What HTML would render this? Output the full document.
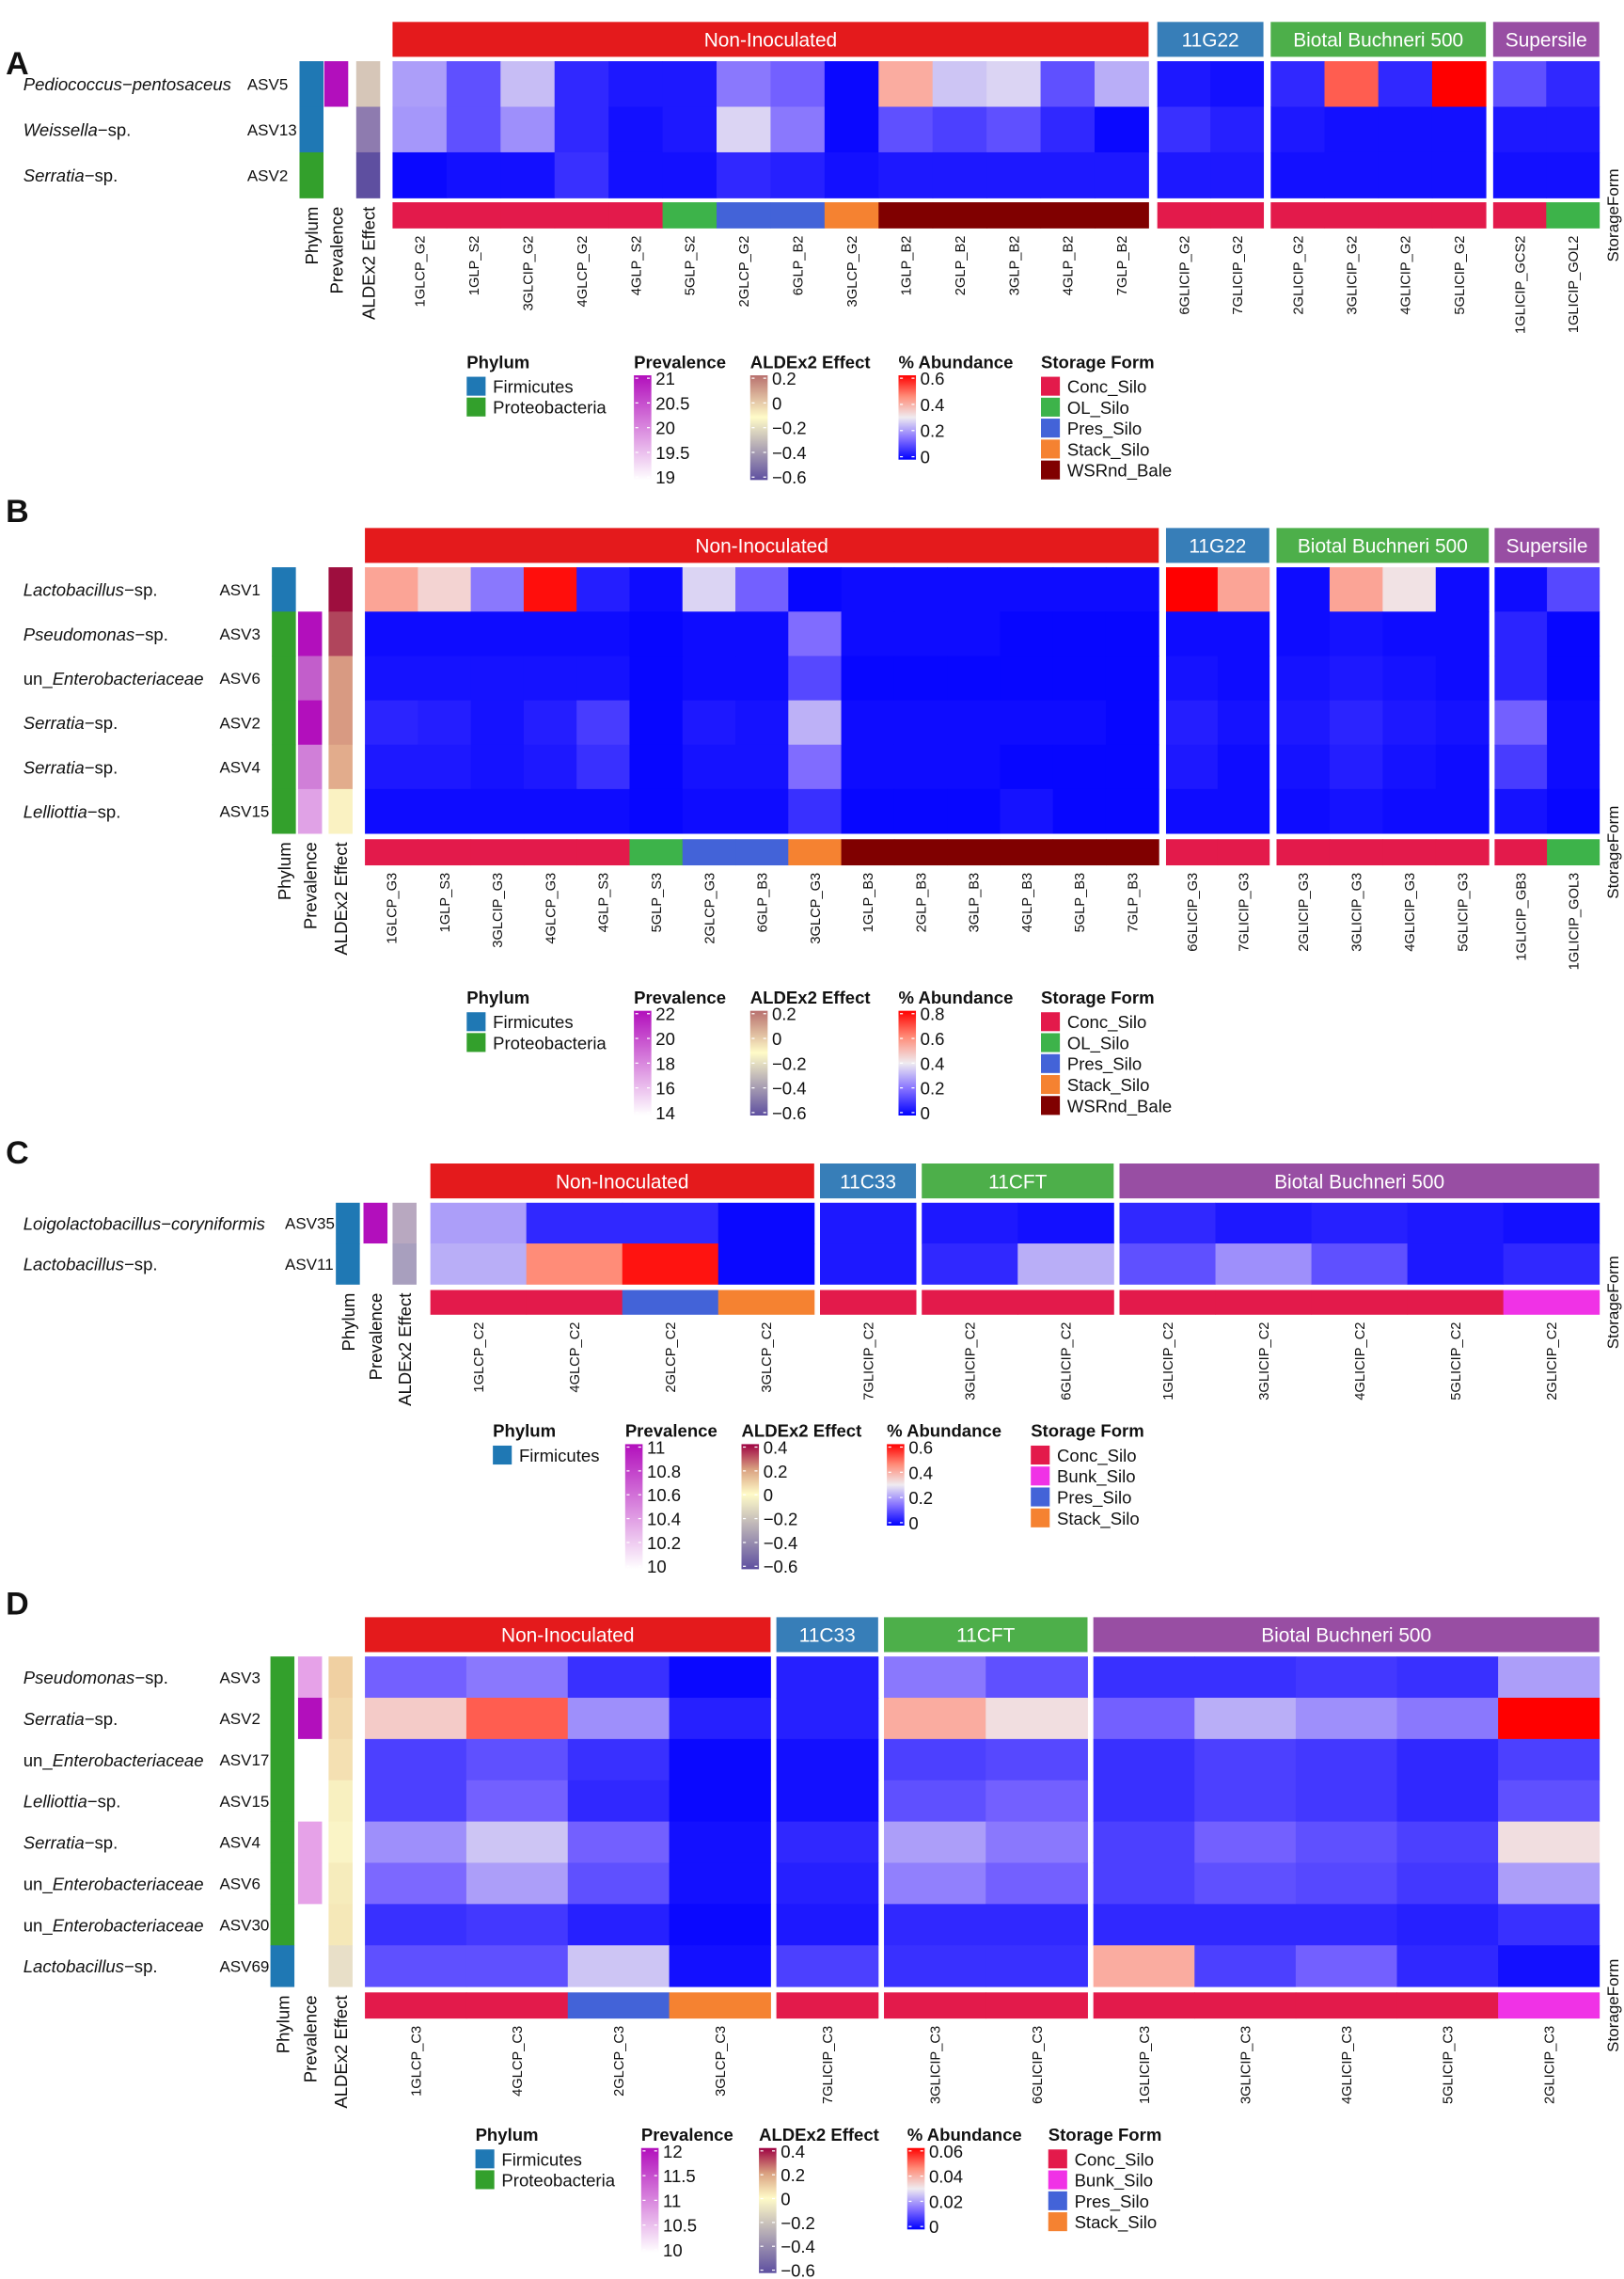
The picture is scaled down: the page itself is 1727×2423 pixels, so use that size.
<!DOCTYPE html>
<html><head><meta charset="utf-8"><style>
html,body{margin:0;padding:0;background:#fff}
svg{display:block}
text{font-family:"Liberation Sans",Arial,sans-serif;fill:#111}
</style></head><body>
<svg id="fig" xmlns="http://www.w3.org/2000/svg" width="1727" height="2423" viewBox="0 0 1117 1567">
<defs>
<linearGradient id="gAbund" x1="0" y1="1" x2="0" y2="0"><stop offset="0" stop-color="#0000FF"/><stop offset="0.25" stop-color="#8470FF"/><stop offset="0.5" stop-color="#EFEBF0"/><stop offset="0.75" stop-color="#FF8C78"/><stop offset="1" stop-color="#FF0000"/></linearGradient>
<linearGradient id="gPrev" x1="0" y1="1" x2="0" y2="0"><stop offset="0" stop-color="#FFFFFF"/><stop offset="1" stop-color="#B20FBC"/></linearGradient>
<linearGradient id="gAld" x1="0" y1="1" x2="0" y2="0"><stop offset="0" stop-color="#5E4FA0"/><stop offset="0.6" stop-color="#FFFBC8"/><stop offset="1" stop-color="#B8706E"/></linearGradient>
<linearGradient id="gAld2" x1="0" y1="1" x2="0" y2="0"><stop offset="0" stop-color="#5E4FA0"/><stop offset="0.6" stop-color="#FFFBC8"/><stop offset="0.8" stop-color="#D9A080"/><stop offset="1" stop-color="#9E0142"/></linearGradient>
</defs>
</svg>
<script>
// ---------- Data ----------
const panelLetters = ["A","B","C","D"];
const groupNamesA = ["Non-Inoculated","11G22","Biotal Buchneri 500","Supersile"];
const groupSizesA = [14,2,4,2];
const samplesA = ["1GLCP_G2","1GLP_S2","3GLCIP_G2","4GLCP_G2","4GLP_S2","5GLP_S2","2GLCP_G2","6GLP_B2","3GLCP_G2","1GLP_B2","2GLP_B2","3GLP_B2","4GLP_B2","7GLP_B2","6GLICIP_G2","7GLICIP_G2","2GLICIP_G2","3GLICIP_G2","4GLICIP_G2","5GLICIP_G2","1GLICIP_GCS2","1GLICIP_GOL2"];
const storageA = ["Conc","Conc","Conc","Conc","Conc","OL","Pres","Pres","Stack","WSRnd","WSRnd","WSRnd","WSRnd","WSRnd","Conc","Conc","Conc","Conc","Conc","Conc","Conc","OL"];
const taxaA = [["Pediococcus−pentosaceus",""],["Weissella","−sp."],["Serratia","−sp."]];
const asvA = ["ASV5","ASV13","ASV2"];
const phylumA = ["F","F","P"];
const prevColA = ["#B20FBC","#FFFFFF","#FFFFFF"];
const aldColA = ["#D6C6B8","#8E7BAF","#5E4FA0"];
const abundMaxA = 0.6;
const abundA = [
[0.2,0.1,0.24,0.05,0.03,0.03,0.15,0.12,0.01,0.4,0.25,0.27,0.1,0.22,0.03,0.02,0.05,0.5,0.05,0.6,0.1,0.05],
[0.19,0.1,0.18,0.05,0.02,0.03,0.27,0.15,0.01,0.1,0.08,0.1,0.05,0.01,0.06,0.04,0.03,0.02,0.02,0.02,0.03,0.03],
[0.01,0.02,0.02,0.06,0.02,0.02,0.05,0.04,0.02,0.03,0.03,0.03,0.03,0.03,0.03,0.03,0.02,0.02,0.02,0.02,0.02,0.02]];

const groupNamesB = ["Non-Inoculated","11G22","Biotal Buchneri 500","Supersile"];
const groupSizesB = [15,2,4,2];
const samplesB = ["1GLCP_G3","1GLP_S3","3GLCIP_G3","4GLCP_G3","4GLP_S3","5GLP_S3","2GLCP_G3","6GLP_B3","3GLCP_G3","1GLP_B3","2GLP_B3","3GLP_B3","4GLP_B3","5GLP_B3","7GLP_B3","6GLICIP_G3","7GLICIP_G3","2GLICIP_G3","3GLICIP_G3","4GLICIP_G3","5GLICIP_G3","1GLICIP_GB3","1GLICIP_GOL3"];
const storageB = ["Conc","Conc","Conc","Conc","Conc","OL","Pres","Pres","Stack","WSRnd","WSRnd","WSRnd","WSRnd","WSRnd","WSRnd","Conc","Conc","Conc","Conc","Conc","Conc","Conc","OL"];
const taxaB = [["Lactobacillus","−sp."],["Pseudomonas","−sp."],["un_Enterobacteriaceae","",1],["Serratia","−sp."],["Serratia","−sp."],["Lelliottia","−sp."]];
const asvB = ["ASV1","ASV3","ASV6","ASV2","ASV4","ASV15"];
const phylumB = ["F","P","P","P","P","P"];
const prevColB = ["#FFFFFF","#B20FBC","#C25ECB","#B20FBC","#D07FD8","#E0A2E6"];
const aldColB = ["#9E0E3E","#B0455C","#D89A82","#D89A82","#E2AC8C","#FAF2C2"];
const abundMaxB = 0.8;
const abundB = [
[0.55,0.45,0.2,0.78,0.05,0.02,0.36,0.16,0.01,0.02,0.02,0.02,0.02,0.02,0.02,0.8,0.55,0.02,0.55,0.42,0.02,0.02,0.12],
[0.02,0.02,0.02,0.02,0.02,0.01,0.02,0.02,0.18,0.02,0.02,0.02,0.01,0.01,0.01,0.02,0.02,0.02,0.03,0.02,0.02,0.06,0.01],
[0.03,0.03,0.03,0.03,0.03,0.01,0.02,0.02,0.12,0.01,0.01,0.01,0.01,0.01,0.01,0.03,0.02,0.03,0.04,0.03,0.02,0.06,0.01],
[0.06,0.05,0.03,0.05,0.1,0.01,0.04,0.03,0.3,0.02,0.02,0.02,0.02,0.02,0.01,0.05,0.03,0.04,0.06,0.04,0.03,0.16,0.02],
[0.04,0.04,0.03,0.04,0.08,0.01,0.03,0.03,0.18,0.02,0.02,0.02,0.01,0.01,0.01,0.04,0.02,0.03,0.05,0.03,0.02,0.1,0.02],
[0.02,0.02,0.02,0.02,0.02,0.01,0.02,0.02,0.08,0.01,0.01,0.01,0.03,0.01,0.01,0.02,0.02,0.02,0.03,0.02,0.02,0.03,0.01]];

const groupNamesC = ["Non-Inoculated","11C33","11CFT","Biotal Buchneri 500"];
const groupSizesC = [4,1,2,5];
const samplesC = ["1GLCP_C2","4GLCP_C2","2GLCP_C2","3GLCP_C2","7GLICIP_C2","3GLICIP_C2","6GLICIP_C2","1GLICIP_C2","3GLICIP_C2","4GLICIP_C2","5GLICIP_C2","2GLICIP_C2"];
const storageC = ["Conc","Conc","Pres","Stack","Conc","Conc","Conc","Conc","Conc","Conc","Conc","Bunk"];
const taxaC = [["Loigolactobacillus−coryniformis",""],["Lactobacillus","−sp."]];
const asvC = ["ASV35","ASV11"];
const phylumC = ["F","F"];
const prevColC = ["#B20FBC","#FFFFFF"];
const aldColC = ["#B8A8C0","#A89FBE"];
const abundMaxC = 0.6;
const abundC = [
[0.2,0.05,0.05,0.01,0.03,0.03,0.02,0.05,0.03,0.04,0.03,0.02],
[0.22,0.45,0.58,0.01,0.03,0.05,0.22,0.1,0.18,0.1,0.03,0.05]];

const groupNamesD = ["Non-Inoculated","11C33","11CFT","Biotal Buchneri 500"];
const groupSizesD = [4,1,2,5];
const samplesD = ["1GLCP_C3","4GLCP_C3","2GLCP_C3","3GLCP_C3","7GLICIP_C3","3GLICIP_C3","6GLICIP_C3","1GLICIP_C3","3GLICIP_C3","4GLICIP_C3","5GLICIP_C3","2GLICIP_C3"];
const storageD = ["Conc","Conc","Pres","Stack","Conc","Conc","Conc","Conc","Conc","Conc","Conc","Bunk"];
const taxaD = [["Pseudomonas","−sp."],["Serratia","−sp."],["un_Enterobacteriaceae","",1],["Lelliottia","−sp."],["Serratia","−sp."],["un_Enterobacteriaceae","",1],["un_Enterobacteriaceae","",1],["Lactobacillus","−sp."]];
const asvD = ["ASV3","ASV2","ASV17","ASV15","ASV4","ASV6","ASV30","ASV69"];
const phylumD = ["P","P","P","P","P","P","P","F"];
const prevColD = ["#E6A2E8","#B20FBC","#FFFFFF","#FFFFFF","#E6A2E8","#E6A2E8","#FFFFFF","#FFFFFF"];
const aldColD = ["#F0D0A2","#F2D8AA","#F4E0B2","#F8F0C0","#FAF4C6","#F6ECBC","#F5E8B8","#E8DFC8"];
const abundMaxD = 0.06;
const abundD = [
[0.012,0.015,0.006,0.001,0.004,0.015,0.01,0.006,0.006,0.007,0.006,0.02],
[0.035,0.05,0.018,0.004,0.004,0.04,0.032,0.012,0.022,0.018,0.015,0.06],
[0.008,0.01,0.006,0.001,0.002,0.008,0.009,0.006,0.008,0.007,0.005,0.008],
[0.008,0.012,0.005,0.001,0.002,0.01,0.012,0.006,0.008,0.007,0.005,0.01],
[0.018,0.025,0.012,0.002,0.005,0.02,0.015,0.008,0.012,0.01,0.008,0.032],
[0.013,0.02,0.01,0.002,0.004,0.016,0.012,0.008,0.01,0.009,0.007,0.02],
[0.006,0.007,0.004,0.001,0.003,0.005,0.005,0.005,0.005,0.005,0.004,0.006],
[0.01,0.01,0.025,0.002,0.008,0.006,0.006,0.04,0.008,0.012,0.005,0.002]];

// legend tick labels
const prevTicksA = ["21","20.5","20","19.5","19"];
const aldTicksA = ["0.2","0","−0.2","−0.4","−0.6"];
const abTicksA = ["0.6","0.4","0.2","0"];
const prevTicksB = ["22","20","18","16","14"];
const abTicksB = ["0.8","0.6","0.4","0.2","0"];
const prevTicksC = ["11","10.8","10.6","10.4","10.2","10"];
const aldTicksC = ["0.4","0.2","0","−0.2","−0.4","−0.6"];
const prevTicksD = ["12","11.5","11","10.5","10"];
const abTicksD = ["0.06","0.04","0.02","0"];

// ---------- Styles ----------
const groupColors = ["#E41A1C","#377EB8","#4DAF4A","#984EA3"];
const storeColors = {Conc:"#E31A4B",OL:"#3DB34A",Pres:"#4363D8",Stack:"#F58231",WSRnd:"#800000",Bunk:"#F032E6"};
const storeNames = {Conc:"Conc_Silo",OL:"OL_Silo",Pres:"Pres_Silo",Stack:"Stack_Silo",WSRnd:"WSRnd_Bale",Bunk:"Bunk_Silo"};
const phyColors = {F:"#1F78B4",P:"#33A02C"};

const svg = document.getElementById('fig');
const NS = "http://www.w3.org/2000/svg";
function el(tag, attrs, parent){const e=document.createElementNS(NS,tag);for(const k in attrs)e.setAttribute(k,attrs[k]);(parent||svg).appendChild(e);return e;}
function txt(s,x,y,size,opts,parent){opts=opts||{};const t=el('text',{x:x,y:y,'font-size':size},parent);if(opts.anchor)t.setAttribute('text-anchor',opts.anchor);if(opts.bold)t.setAttribute('font-weight','bold');if(opts.fill)t.style.fill=opts.fill;if(opts.rot)t.setAttribute('transform','rotate(-90 '+x+' '+y+')');t.textContent=s;return t;}
function hex(c){return [parseInt(c.slice(1,3),16),parseInt(c.slice(3,5),16),parseInt(c.slice(5,7),16)];}
const abStops=[[0,"#0000FF"],[0.22,"#7E6AFF"],[0.5,"#EFEBF0"],[0.75,"#FF8C78"],[1,"#FF0000"]];
function abColor(t){t=Math.max(0,Math.min(1,t));for(let i=1;i<abStops.length;i++){if(t<=abStops[i][0]){const a=abStops[i-1],b=abStops[i];const f=(t-a[0])/(b[0]-a[0]);const A=hex(a[1]),B=hex(b[1]);return 'rgb('+A.map((v,j)=>Math.round(v+(B[j]-v)*f)).join(',')+')';}}return "#FF0000";}

function panel(cfg){
  const g=el('g',{});
  
  
  const L=txt(cfg.letter,4,cfg.letterY,22,{bold:true},g);
  
  
  const nR=cfg.abund.length;
  const rowH=(cfg.hmBottom-cfg.hmTop)/nR;
  const colX=[];const colW=[];
  cfg.groupSizes.forEach((n,gi)=>{
    const x0=cfg.groupX[gi][0],x1=cfg.groupX[gi][1],w=(x1-x0)/n;
    const h=el('rect',{x:x0,y:cfg.hdrTop,width:x1-x0,height:cfg.hmTop-cfg.hdrTop-3,fill:groupColors[gi]},g);
    
    
    const ht=txt(cfg.groupNames[gi],(x0+x1)/2,cfg.hdrTop+(cfg.hmTop-cfg.hdrTop-3)/2+5,13.5,{anchor:'middle',fill:'#fff'},g);
    
    
    for(let k=0;k<n;k++){colX.push(x0+k*w);colW.push(w);}
  });
  cfg.abund.forEach((row,r)=>{
    row.forEach((v,c)=>{
      const cell=el('rect',{x:colX[c],y:cfg.hmTop+r*rowH,width:colW[c]+0.3,height:rowH+0.3,fill:abColor(v/cfg.abMax)},g);
      
      
    });
  });
  cfg.storage.forEach((s,c)=>{
    const b=el('rect',{x:colX[c],y:cfg.stTop,width:colW[c]+0.3,height:cfg.stH,fill:storeColors[s]},g);
    
    
    const lab=txt(cfg.samples[c],colX[c]+colW[c]/2+3.5,cfg.stTop+cfg.stH+5,9.5,{anchor:'end',rot:true},g);
    
    
  });
  const sf=txt('StorageForm',1113,cfg.stTop+cfg.stH/2,11,{anchor:'middle',rot:true},g);
  
  
  const ax=cfg.annX;
  for(let r=0;r<nR;r++){
    const y=cfg.hmTop+r*rowH;
    const p=el('rect',{x:ax[0],y:y,width:16.5,height:rowH+0.3,fill:phyColors[cfg.phylum[r]]},g);
    
    
    const q=el('rect',{x:ax[1],y:y,width:16.5,height:rowH+0.3,fill:cfg.prev[r]},g);
    
    
    const a=el('rect',{x:ax[2],y:y,width:16.5,height:rowH+0.3,fill:cfg.ald[r]},g);
    
    
    const t=cfg.taxa[r];
    const rt=el('text',{x:16,y:y+rowH/2+4.5,'font-size':12},g);
    
    
    if(t[2]){const s1=el('tspan',{},rt);s1.textContent='un_';const s2=el('tspan',{'font-style':'italic'},rt);s2.textContent=t[0].slice(3);}
    else{const s1=el('tspan',{'font-style':'italic'},rt);s1.textContent=t[0];if(t[1]){const s2=el('tspan',{},rt);s2.textContent=t[1];}}
    const at=txt(cfg.asv[r],cfg.asvX,y+rowH/2+4,11,{},g);
    
    
  }
  ['Phylum','Prevalence','ALDEx2 Effect'].forEach((s,i)=>{
    const t=txt(s,ax[i]+8.25+4.5,cfg.hmBottom+6,12,{anchor:'end',rot:true},g);
    
    
  });
  const Ly=cfg.legY;
  const lg=el('g',{},g);
  
  
  const lx=cfg.legX;
  txt('Phylum',lx[0],Ly,12,{bold:true},lg);
  cfg.phyLegend.forEach((p,i)=>{
    const s=el('rect',{x:lx[0],y:Ly+6+i*14.3,width:13,height:13,fill:phyColors[p]},lg);
    
    
    txt(p==='F'?'Firmicutes':'Proteobacteria',lx[0]+18,Ly+17+i*14.3,12,{},lg);
  });
  function gradLeg(x,title,grad,ticks,h){
    txt(title,x,Ly,12,{bold:true},lg);
    const r=el('rect',{x:x,y:Ly+5,width:12,height:h,fill:'url(#'+grad+')'},lg);
    
    
    ticks.forEach((t,i)=>{
      const yy=Ly+5+2+i*(h-4)/(ticks.length-1);
      el('line',{x1:x+1,x2:x+3,y1:yy,y2:yy,stroke:'#fff','stroke-width':0.8},lg);
      el('line',{x1:x+9,x2:x+11,y1:yy,y2:yy,stroke:'#fff','stroke-width':0.8},lg);
      txt(t,x+15,yy+4.5,12,{},lg);
    });
  }
  gradLeg(lx[1],'Prevalence','gPrev',cfg.prevTicks,cfg.prevH);
  gradLeg(lx[2],'ALDEx2 Effect',cfg.aldGrad,cfg.aldTicks,cfg.aldH);
  gradLeg(lx[3],'% Abundance','gAbund',cfg.abTicks,cfg.abH);
  txt('Storage Form',lx[4],Ly,12,{bold:true},lg);
  cfg.storeLegend.forEach((s,i)=>{
    const sw=el('rect',{x:lx[4],y:Ly+6+i*14.4,width:13,height:13,fill:storeColors[s]},lg);
    
    
    txt(storeNames[s],lx[4]+18,Ly+17+i*14.4,12,{},lg);
  });
}

panel({letter:'A',letterY:51,groupNames:groupNamesA,groupSizes:groupSizesA,samples:samplesA,storage:storageA,taxa:taxaA,asv:asvA,phylum:phylumA,prev:prevColA,ald:aldColA,abMax:abundMaxA,abund:abundA,
 groupX:[[270,790],[796,869],[874,1022],[1027,1100]],hdrTop:15,hmTop:42,hmBottom:136,stTop:139,stH:18,annX:[206,223,245],asvX:170,
 legY:253,legX:[321,436,516,618,716],phyLegend:['F','P'],prevTicks:prevTicksA,aldGrad:'gAld',aldTicks:aldTicksA,abTicks:abTicksA,prevH:72,aldH:72,abH:58,storeLegend:['Conc','OL','Pres','Stack','WSRnd']});
panel({letter:'B',letterY:359,groupNames:groupNamesB,groupSizes:groupSizesB,samples:samplesB,storage:storageB,taxa:taxaB,asv:asvB,phylum:phylumB,prev:prevColB,ald:aldColB,abMax:abundMaxB,abund:abundB,
 groupX:[[251,797],[802,873],[878,1024],[1028,1100]],hdrTop:363,hmTop:390,hmBottom:573,stTop:577,stH:18,annX:[187,205,226],asvX:151,
 legY:690,legX:[321,436,516,618,716],phyLegend:['F','P'],prevTicks:prevTicksB,aldGrad:'gAld',aldTicks:aldTicksA,abTicks:abTicksB,prevH:72,aldH:72,abH:72,storeLegend:['Conc','OL','Pres','Stack','WSRnd']});
panel({letter:'C',letterY:800,groupNames:groupNamesC,groupSizes:groupSizesC,samples:samplesC,storage:storageC,taxa:taxaC,asv:asvC,phylum:phylumC,prev:prevColC,ald:aldColC,abMax:abundMaxC,abund:abundC,
 groupX:[[296,560],[564,630],[634,766],[770,1100]],hdrTop:800,hmTop:827,hmBottom:883,stTop:887,stH:17,annX:[231,250,270],asvX:196,
 legY:988,legX:[339,430,510,610,709],phyLegend:['F'],prevTicks:prevTicksC,aldGrad:'gAld2',aldTicks:aldTicksC,abTicks:abTicksA,prevH:86,aldH:86,abH:56,storeLegend:['Conc','Bunk','Pres','Stack']});
panel({letter:'D',letterY:1110,groupNames:groupNamesD,groupSizes:groupSizesD,samples:samplesD,storage:storageD,taxa:taxaD,asv:asvD,phylum:phylumD,prev:prevColD,ald:aldColD,abMax:abundMaxD,abund:abundD,
 groupX:[[251,530],[534,604],[608,748],[752,1100]],hdrTop:1112,hmTop:1139,hmBottom:1366,stTop:1370,stH:18,annX:[186,205,226],asvX:151,
 legY:1472,legX:[327,441,522,624,721],phyLegend:['F','P'],prevTicks:prevTicksD,aldGrad:'gAld2',aldTicks:aldTicksC,abTicks:abTicksD,prevH:72,aldH:86,abH:56,storeLegend:['Conc','Bunk','Pres','Stack']});
</script>
</body></html>
